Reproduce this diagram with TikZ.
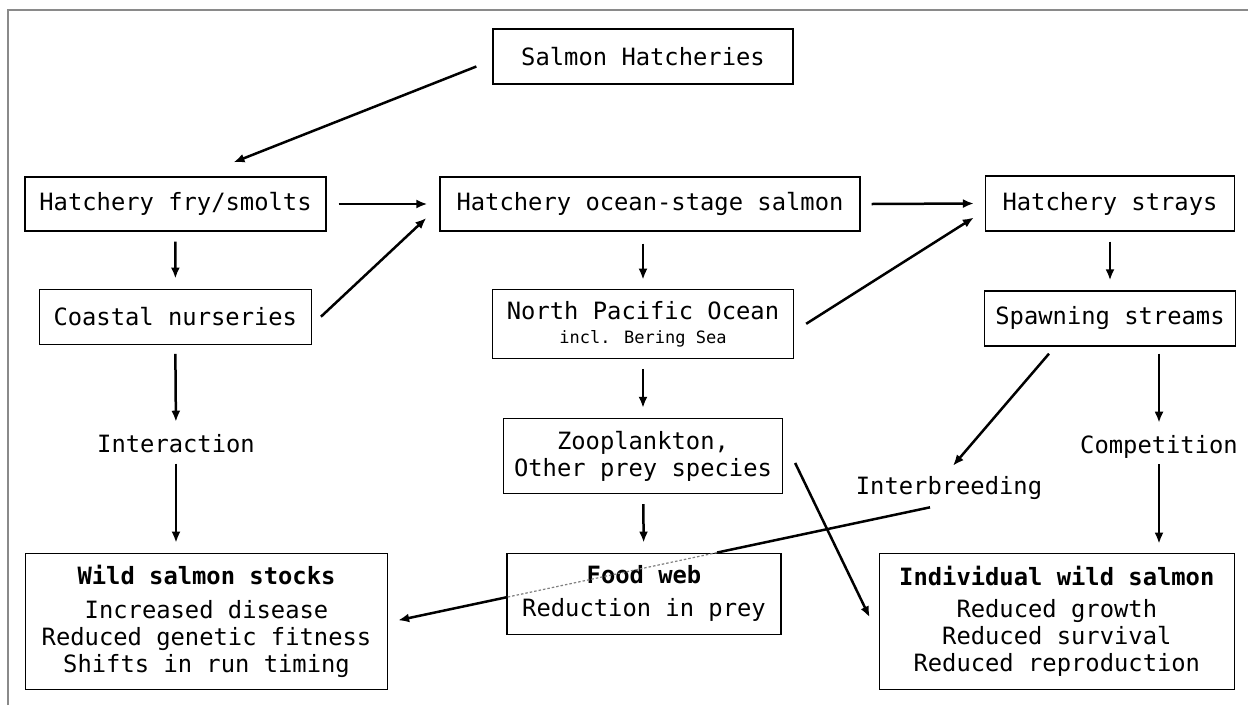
\documentclass[tikz,border=0pt]{standalone}
\usepackage{fontspec}
\newfontfamily\diagfont{DejaVu Sans Mono}
\usetikzlibrary{arrows.meta, intersections}

\definecolor{framegray}{HTML}{8a8a8a}

\begin{document}
\begin{tikzpicture}[x=1pt, y=-1pt,
  box/.style={draw, line width=1.3pt, fill=white, align=center, inner sep=0pt, font=\diagfont\fontsize{23.8}{27}\selectfont},
  lbl/.style={inner sep=0pt, anchor=base, font=\diagfont\fontsize{23.8}{27}\selectfont},
  arr/.style={-{Latex[length=11pt,width=9pt]}, line width=2.5pt},
  plain/.style={line width=2.5pt},
  hidden/.style={draw=gray, line width=1.2pt, dash pattern=on 2.5pt off 2pt}
]
\useasboundingbox (0,0) rectangle (1248,705);
\fill[white] (0,0) rectangle (1248,705);
\draw[framegray, line width=1.4pt] (8,705) -- (8,10) -- (1248,10);

% boxes
\node[box, minimum width=300pt, minimum height=55pt] (hatch) at (643,56.5) {Salmon Hatcheries};
\node[box, minimum width=301pt, minimum height=54pt] (fry) at (175.5,204) {Hatchery fry/smolts};
\node[box, minimum width=420pt, minimum height=54pt] (ocean) at (650,204) {Hatchery ocean-stage salmon};
\node[box, minimum width=249pt, minimum height=55pt] (strays) at (1110,203.5) {Hatchery strays};
\node[box, minimum width=272pt, minimum height=55pt] (coastal) at (175.3,316.7) {Coastal nurseries};
\node[box, minimum width=301pt, minimum height=69pt] (npac) at (643,323.8) {North Pacific Ocean\\[-3pt]{\fontsize{17}{20}\selectfont incl. Bering Sea}};
\node[box, minimum width=251pt, minimum height=55pt] (spawn) at (1110,318.5) {Spawning streams};
\node[box, minimum width=279pt, minimum height=75pt] (zoo) at (643,456) {Zooplankton,\\Other prey species};
\node[box, minimum width=274pt, minimum height=81pt] (food) at (644,593.7) {{\bfseries Food web}\\[6pt]Reduction in prey};
\node[box, minimum width=362pt, minimum height=136pt] (wild) at (206.5,621.3) {{\bfseries Wild salmon stocks}\\[7pt]Increased disease\\Reduced genetic fitness\\Shifts in run timing};
\node[box, minimum width=355pt, minimum height=136pt] (indiv) at (1056.8,621.3) {{\bfseries Individual wild salmon}\\[5pt]Reduced growth\\Reduced survival\\Reduced reproduction};

% labels
\node[lbl] (interact) at (176,452) {Interaction};
\node[lbl] (compet) at (1159,453) {Competition};
\node[lbl] (breed) at (949,494) {Interbreeding};

% arrows
\draw[arr] ([xshift=-16pt,yshift=-10pt]hatch.west) -- ([xshift=58pt,yshift=14pt]fry.north);
\draw[arr] ([xshift=12pt]fry.east) -- ([xshift=-12pt]ocean.west);
\draw[arr] ([xshift=11pt]ocean.east) -- ([xshift=-11pt]strays.west);
\draw[arr] ([xshift=9pt]coastal.east) -- ([xshift=-13pt,yshift=-14pt]ocean.west);
\draw[arr] ([xshift=12pt]npac.east) -- ([xshift=-11pt,yshift=-14pt]strays.west);
\foreach \a/\b in {fry/coastal, strays/spawn, npac/zoo, zoo/food}
  \draw[arr, shorten <=10pt, shorten >=10pt] (\a) -- (\b);
\draw[arr, shorten <=12pt, shorten >=9pt] (npac.north |- ocean.south) -- (npac.north);
\draw[arr, shorten <=9pt, shorten >=12pt] (coastal.south) -- (interact.north);
\draw[arr, shorten <=11pt, shorten >=10pt] (interact.south) -- (interact.south |- wild.north);
\draw[arr, shorten <=7pt, shorten >=12pt] (compet.north |- spawn.south) -- (compet.north);
\draw[arr, shorten <=6pt, shorten >=9pt] (compet.south) -- (compet.south |- indiv.north);
\draw[arr] ([xshift=-61pt,yshift=-7pt]spawn.south) -- ([xshift=4pt,yshift=10pt]breed.north);
\draw[arr] ([xshift=12pt,yshift=-7pt]zoo.east) -- ([xshift=-9pt,yshift=4pt]indiv.west);

% interbreeding line passes under the food web box
\coordinate (brfrom) at ([xshift=-19pt,yshift=-8pt]breed.south);
\coordinate (brto) at ([xshift=10pt,yshift=1pt]wild.east);
\path[name path=brline] (brfrom) -- (brto);
\path[name path=fwbox] (food.north west) rectangle (food.south east);
\path[name intersections={of=brline and fwbox, sort by=brline, by={fwin,fwout}}];
\draw[plain] (brfrom) -- (fwin);
\draw[hidden] (fwin) -- (fwout);
\draw[arr] (fwout) -- (brto);
\end{tikzpicture}
\end{document}
